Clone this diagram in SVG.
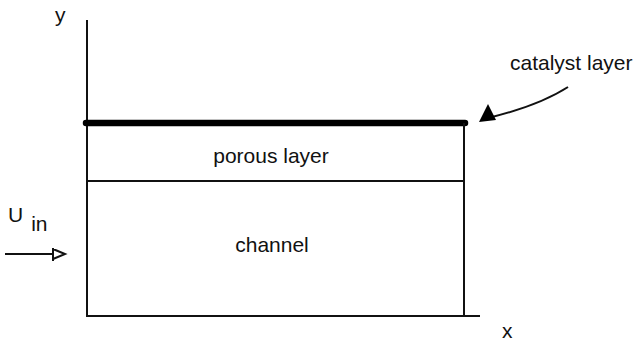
<svg xmlns="http://www.w3.org/2000/svg" width="635" height="343" viewBox="0 0 635 343">
<style>
text{font-family:"Liberation Sans",Arial,sans-serif;fill:#111;font-size:21px}
.ln{stroke:#111;fill:none;stroke-width:2}
</style>
<rect width="635" height="343" fill="#fff"/>
<g id="axes">
<line class="ln" x1="87" y1="20" x2="87" y2="316"/>
<line class="ln" x1="86" y1="316" x2="480" y2="316"/>
<text x="55" y="22" font-size="20">y</text>
<text x="502" y="338" font-size="14">x</text>
</g>
<g id="catalyst-layer">
<line x1="86" y1="123" x2="465" y2="123" stroke="#000" stroke-width="6.5" stroke-linecap="round"/>
<text x="510" y="70">catalyst layer</text>
</g>
<g id="porous-layer">
<line class="ln" x1="86" y1="181" x2="464" y2="181"/>
<text x="271" y="163" text-anchor="middle">porous layer</text>
</g>
<g id="channel">
<line class="ln" x1="464" y1="123" x2="464" y2="316" stroke-width="3"/>
<text x="272" y="252" text-anchor="middle">channel</text>
</g>
<g id="inlet">
<text x="8" y="222" font-size="20">U<tspan dx="8" dy="9">in</tspan></text>
</g>
<g id="connectors">
<line class="ln" x1="5" y1="254" x2="54" y2="254"/>
<path d="M53,248 L53,261 M53,249 L65,254 L53,259" stroke="#111" stroke-width="2" fill="none"/>
<path d="M568,87 Q540,105 492,117" class="ln"/>
<polygon points="479,122 488,104 496,120" fill="#000"/>
</g>
</svg>
